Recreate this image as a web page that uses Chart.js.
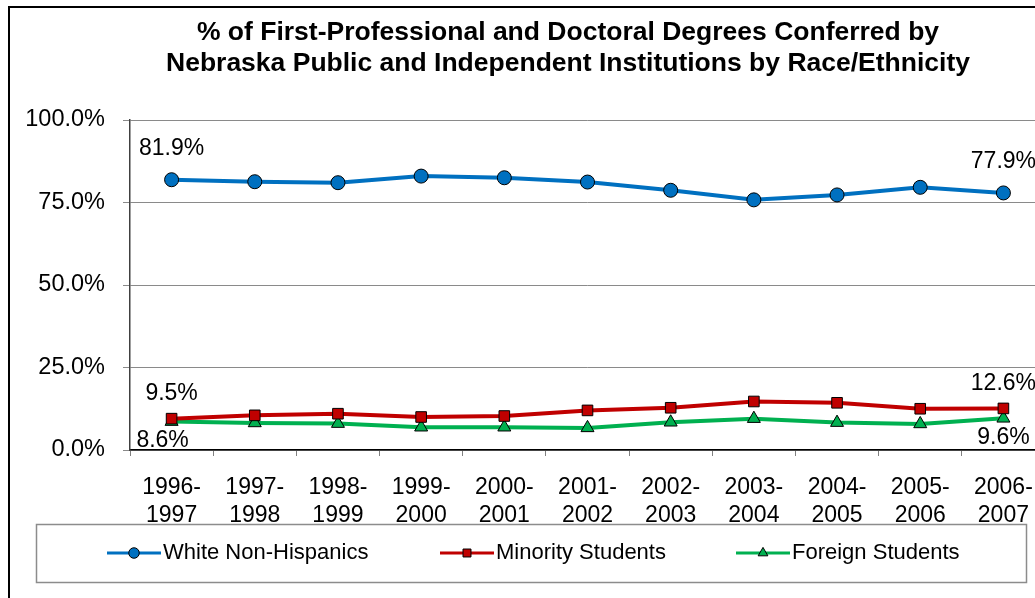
<!DOCTYPE html>
<html>
<head>
<meta charset="utf-8">
<script src="https://cdn.jsdelivr.net/npm/chart.js@4/dist/chart.umd.min.js"></script>
<style>
  html, body { margin: 0; padding: 0; background: #fff; overflow: hidden; }
  #wrap { width: 1136px; height: 598px; }
</style>
</head>
<body>
<div id="wrap"><canvas id="chart" width="1136" height="598"></canvas></div>
<script>
// Datos (porcentaje de títulos)
const years = [
    ['1996-', '1997'], ['1997-', '1998'], ['1998-', '1999'], ['1999-', '2000'],
    ['2000-', '2001'], ['2001-', '2002'], ['2002-', '2003'], ['2003-', '2004'],
    ['2004-', '2005'], ['2005-', '2006'], ['2006-', '2007']
];
const whiteNonHispanic = [81.9, 81.3, 81.0, 83.0, 82.5, 81.2, 78.7, 75.8, 77.3, 79.6, 77.9];
const minorityStudents = [9.5, 10.5, 11.0, 10.0, 10.3, 12.0, 12.8, 14.7, 14.3, 12.5, 12.6];
const foreignStudents = [8.6, 8.2, 8.0, 6.9, 6.9, 6.7, 8.4, 9.5, 8.3, 7.9, 9.6];
const seriesNames = ['White Non-Hispanics', 'Minority Students', 'Foreign Students'];
const titleLines = [
    '% of First-Professional and Doctoral Degrees Conferred by',
    'Nebraska Public and Independent Institutions by Race/Ethnicity'
];
const yTicks = [0, 25, 50, 75, 100];

const FONT = '"Liberation Sans", Arial, sans-serif';
Chart.defaults.font.family = FONT;
Chart.defaults.font.size = 23;
Chart.defaults.color = '#000';

// Marco exterior, fondo blanco y título
const framePlugin = {
    id: 'frame',
    beforeDraw(chart) {
        const ctx = chart.ctx;
        ctx.save();
        ctx.fillStyle = '#fff';
        ctx.fillRect(0, 0, chart.width, chart.height);
        ctx.strokeStyle = '#000';
        ctx.lineWidth = 2;
        ctx.strokeRect(9, 7, 2000, 2000);
        ctx.fillStyle = '#000';
        ctx.font = 'bold 26.5px ' + FONT;
        ctx.textAlign = 'center';
        ctx.textBaseline = 'middle';
        titleLines.forEach((t, i) => ctx.fillText(t, 568, 33 + i * 30.5));
        ctx.restore();
    }
};

// Etiquetas del primer y último punto de cada serie
const endLabelsPlugin = {
    id: 'endLabels',
    afterDatasetsDraw(chart) {
        const ctx = chart.ctx;
        const offsets = [{ dy: -31 }, { dy: -25 }, { dy: 19 }];
        ctx.save();
        ctx.font = '23px ' + FONT;
        ctx.fillStyle = '#000';
        ctx.textAlign = 'center';
        ctx.textBaseline = 'middle';
        chart.data.datasets.forEach((ds, i) => {
            const pts = chart.getDatasetMeta(i).data;
            [0, pts.length - 1].forEach((j, k) => {
                const dx = (i === 2 && k === 0) ? -9 : 0;
                ctx.fillText(ds.data[j].toFixed(1) + '%', pts[j].x + dx, pts[j].y + offsets[i].dy);
            });
        });
        ctx.restore();
    }
};

// Leyenda con línea y marcador, dentro de un recuadro
const legendBoxPlugin = {
    id: 'legendBox',
    afterDraw(chart) {
        const ctx = chart.ctx;
        ctx.save();
        ctx.strokeStyle = '#8c8c8c';
        ctx.lineWidth = 1.5;
        ctx.strokeRect(36.5, 524.5, 990, 58);
        const starts = [107, 440, 736];
        const y = 553;
        chart.data.datasets.forEach((ds, i) => {
            const x0 = starts[i];
            ctx.strokeStyle = ds.borderColor;
            ctx.lineWidth = 3;
            ctx.beginPath();
            ctx.moveTo(x0, y);
            ctx.lineTo(x0 + 54, y);
            ctx.stroke();
            ctx.fillStyle = ds.backgroundColor;
            ctx.strokeStyle = '#000';
            ctx.lineWidth = 1;
            Chart.helpers.drawPoint(ctx, { pointStyle: ds.pointStyle, radius: ds.pointRadius * 0.75, borderWidth: 1 }, x0 + 27, y);
            ctx.fillStyle = '#000';
            ctx.font = '22px ' + FONT;
            ctx.textAlign = 'left';
            ctx.textBaseline = 'middle';
            ctx.fillText(ds.label, x0 + 56, y);
        });
        ctx.restore();
    }
};

const ctx = document.getElementById('chart').getContext('2d');
new Chart(ctx, {
    type: 'line',
    data: {
        labels: years,
        datasets: [
            {
                label: seriesNames[0],
                data: whiteNonHispanic,
                borderColor: '#0070C0',
                backgroundColor: '#0070C0',
                borderWidth: 4,
                pointStyle: 'circle',
                pointRadius: 7,
                pointBorderColor: '#000',
                pointBorderWidth: 1
            },
            {
                label: seriesNames[1],
                data: minorityStudents,
                borderColor: '#C00000',
                backgroundColor: '#C00000',
                borderWidth: 4,
                pointStyle: 'rect',
                pointRadius: 7.5,
                pointBorderColor: '#000',
                pointBorderWidth: 1
            },
            {
                label: seriesNames[2],
                data: foreignStudents,
                borderColor: '#00B050',
                backgroundColor: '#00B050',
                borderWidth: 4,
                pointStyle: 'triangle',
                pointRadius: 7.5,
                pointBorderColor: '#000',
                pointBorderWidth: 1
            }
        ]
    },
    options: {
        responsive: false,
        animation: false,
        layout: { padding: { left: 0, right: 91, top: 120, bottom: 67 } },
        plugins: {
            legend: { display: false },
            tooltip: { enabled: false },
            title: { display: false }
        },
        scales: {
            x: {
                offset: true,
                grid: { offset: true, drawOnChartArea: false, tickLength: 6, color: '#808080' },
                border: { color: '#000', width: 1.5 },
                ticks: { maxRotation: 0, autoSkip: false, padding: 18, color: '#000' },
                afterFit(s) { s.height = 81; }
            },
            y: {
                min: 0,
                max: 100,
                afterBuildTicks(s) { s.ticks = yTicks.map(v => ({ value: v })); },
                grid: { color: '#8a8a8a', tickLength: 7 },
                border: { color: '#404040', width: 1.5 },
                ticks: { padding: 18, color: '#000', font: { size: 23.5 }, callback: v => v.toFixed(1) + '%' },
                afterFit(s) { s.width = 130; }
            }
        }
    },
    plugins: [framePlugin, endLabelsPlugin, legendBoxPlugin]
});
</script>
</body>
</html>
